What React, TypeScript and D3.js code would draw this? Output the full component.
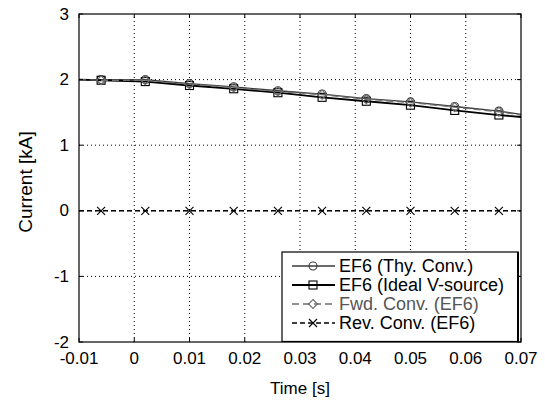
import React from "react";
import * as d3 from "d3";

// time values where markers sit
const markerTimes = [-0.006, 0.002, 0.01, 0.018, 0.026, 0.034, 0.042, 0.05, 0.058, 0.066];
// line endpoints
const tStart = -0.01;
const tEnd = 0.07;

const thyConv = [2.0, 2.0, 1.94, 1.89, 1.83, 1.78, 1.71, 1.66, 1.59, 1.52];
const thyStart = 2.0;
const thyEnd = 1.47;
const idealV = [1.99, 1.97, 1.91, 1.86, 1.8, 1.73, 1.67, 1.61, 1.53, 1.46];
const idealStart = 2.0;
const idealEnd = 1.43;
const fwdConv = [1.99, 1.99, 1.93, 1.88, 1.82, 1.77, 1.7, 1.65, 1.58, 1.51];
const fwdStart = 2.0;
const fwdEnd = 1.46;
const revConv = [0, 0, 0, 0, 0, 0, 0, 0, 0, 0];

const xTicks = [-0.01, 0, 0.01, 0.02, 0.03, 0.04, 0.05, 0.06, 0.07];
const yTicks = [-2, -1, 0, 1, 2, 3];

const legendNames = ["EF6 (Thy. Conv.)", "EF6 (Ideal V-source)", "Fwd. Conv. (EF6)", "Rev. Conv. (EF6)"];

const W = 545;
const H = 400;
const margin = { left: 79, right: 24, top: 14, bottom: 58 };
const font = "Liberation Sans, Arial, sans-serif";

type Pt = [number, number];

function build(start: number, vals: number[], end: number): Pt[] {
  const pts: Pt[] = [[tStart, start]];
  markerTimes.forEach((t, i) => pts.push([t, vals[i]]));
  pts.push([tEnd, end]);
  return pts;
}

const series = [
  { name: legendNames[0], pts: build(thyStart, thyConv, thyEnd), marks: thyConv, color: "#3a3a3a", width: 1.3, dash: "", marker: "circle", text: "#000" },
  { name: legendNames[1], pts: build(idealStart, idealV, idealEnd), marks: idealV, color: "#000", width: 1.8, dash: "", marker: "square", text: "#000" },
  { name: legendNames[2], pts: build(fwdStart, fwdConv, fwdEnd), marks: fwdConv, color: "#6e6e6e", width: 1.3, dash: "7,4", marker: "diamond", text: "#555" },
  { name: legendNames[3], pts: build(0, revConv, 0), marks: revConv, color: "#000", width: 1.6, dash: "5,3", marker: "x", text: "#000" },
];

function Marker({ kind, x, y, color }: { kind: string; x: number; y: number; color: string }) {
  if (kind === "circle") return <circle cx={x} cy={y} r={4} fill="none" stroke={color} strokeWidth={1.1} />;
  if (kind === "square") return <rect x={x - 4} y={y - 4} width={8} height={8} fill="none" stroke={color} strokeWidth={1.1} />;
  if (kind === "diamond")
    return <path d={`M${x},${y - 4.5}L${x + 4.5},${y}L${x},${y + 4.5}L${x - 4.5},${y}Z`} fill="none" stroke={color} strokeWidth={1.1} />;
  return <path d={`M${x - 4},${y - 4}L${x + 4},${y + 4}M${x - 4},${y + 4}L${x + 4},${y - 4}`} stroke={color} strokeWidth={1.1} />;
}

export default function App() {
  const x = d3.scaleLinear().domain([-0.01, 0.07]).range([margin.left, W - margin.right]);
  const y = d3.scaleLinear().domain([-2, 3]).range([H - margin.bottom, margin.top]);
  const line = d3
    .line<Pt>()
    .x((d) => x(d[0]))
    .y((d) => y(d[1]));

  const x0 = x.range()[0];
  const x1 = x.range()[1];
  const y0 = y.range()[0];
  const y1 = y.range()[1];

  const legX = 282;
  const legY = 252;
  const legR = 518;
  const legB = y0 - 0.5;

  return (
    <svg width={W} height={H} style={{ position: "absolute", left: 0, top: 0, background: "#fff" }}>
      {/* grid */}
      {xTicks.slice(1, -1).map((t) => (
        <line key={"gx" + t} x1={x(t)} x2={x(t)} y1={y0} y2={y1} stroke="#000" strokeWidth={1} strokeDasharray="1,3" />
      ))}
      {yTicks.slice(1, -1).map((t) => (
        <line key={"gy" + t} x1={x0} x2={x1} y1={y(t)} y2={y(t)} stroke="#000" strokeWidth={1} strokeDasharray="1,3" />
      ))}

      {/* series */}
      {series.map((s) => (
        <g key={s.name}>
          <path d={line(s.pts) || ""} fill="none" stroke={s.color} strokeWidth={s.width} strokeDasharray={s.dash} />
          {markerTimes.map((t, i) => (
            <Marker key={i} kind={s.marker} x={x(t)} y={y(s.marks[i])} color={s.color} />
          ))}
        </g>
      ))}

      {/* ticks */}
      {xTicks.map((t) => (
        <g key={"tx" + t}>
          <line x1={x(t)} x2={x(t)} y1={y0} y2={y0 - 4} stroke="#000" />
          <line x1={x(t)} x2={x(t)} y1={y1} y2={y1 + 4} stroke="#000" />
          <text x={x(t)} y={y0 + 21.5} textAnchor="middle" fontFamily={font} fontSize={17}>
            {t}
          </text>
        </g>
      ))}
      {yTicks.map((t) => (
        <g key={"ty" + t}>
          <line x1={x0} x2={x0 + 4} y1={y(t)} y2={y(t)} stroke="#000" />
          <line x1={x1} x2={x1 - 4} y1={y(t)} y2={y(t)} stroke="#000" />
          <text x={x0 - 10} y={y(t) + 5.5} textAnchor="end" fontFamily={font} fontSize={17}>
            {t}
          </text>
        </g>
      ))}

      {/* frame */}
      <rect x={x0} y={y1} width={x1 - x0} height={y0 - y1} fill="none" stroke="#000" strokeWidth={1.2} />

      {/* legend */}
      <rect x={legX} y={legY} width={legR - legX} height={legB - legY} fill="#fff" stroke="#000" strokeWidth={1.2} />
      <line x1={legR} x2={legR} y1={legY} y2={legB} stroke="#000" strokeWidth={2} />
      {series.map((s, i) => {
        const ly = legY + 14 + i * 19;
        return (
          <g key={"lg" + i}>
            <line x1={legX + 10} x2={legX + 53} y1={ly} y2={ly} stroke={s.color} strokeWidth={s.width} strokeDasharray={s.dash} />
            <Marker kind={s.marker} x={legX + 31} y={ly} color={s.color} />
            <text x={legX + 57} y={ly + 6} fontFamily={font} fontSize={18} fill={s.text}>
              {s.name}
            </text>
          </g>
        );
      })}

      {/* axis titles */}
      <text x={(x0 + x1) / 2} y={394} textAnchor="middle" fontFamily={font} fontSize={17}>
        Time [s]
      </text>
      <text
        transform={`translate(32,${(y0 + y1) / 2 + 4}) rotate(-90)`}
        textAnchor="middle"
        fontFamily={font}
        fontSize={19}
      >
        Current [kA]
      </text>
    </svg>
  );
}
